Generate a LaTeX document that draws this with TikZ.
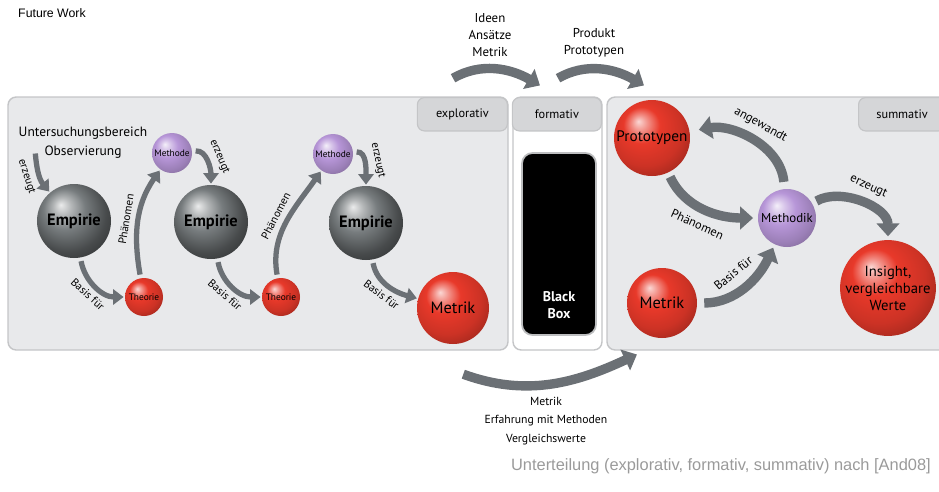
\documentclass[tikz,border=0pt]{standalone}
\usepackage{fontspec}
\setmainfont{PT Sans}
\newfontfamily\arialfont{Liberation Sans}
\usetikzlibrary{arrows.meta,positioning,calc}

\definecolor{panelfill}{HTML}{E8E9EB}
\definecolor{panelline}{HTML}{C4C5C7}
\definecolor{tabfill}{HTML}{D5D6D8}
\definecolor{boxline}{HTML}{BDBEC0}
\definecolor{arrowgray}{HTML}{6B7075}
\definecolor{sphred}{HTML}{E8392A}
\definecolor{sphgray}{HTML}{777C7E}
\definecolor{sphpurple}{HTML}{B796D8}
\definecolor{captiongray}{HTML}{9A9A9A}

% sphere shadings
\pgfdeclareradialshading{redsphere}{\pgfqpoint{-9bp}{11bp}}{%
  color(0bp)=(sphred!20!white); color(5bp)=(sphred!55!white); color(12bp)=(sphred);
  color(24bp)=(sphred!88!black); color(38bp)=(sphred!60!black); color(50bp)=(sphred!50!black)}
\pgfdeclareradialshading{graysphere}{\pgfqpoint{-9bp}{11bp}}{%
  color(0bp)=(sphgray!15!white); color(6bp)=(sphgray!55!white); color(14bp)=(sphgray);
  color(26bp)=(sphgray!60!black); color(38bp)=(sphgray!35!black); color(50bp)=(sphgray!30!black)}
\pgfdeclareradialshading{purplesphere}{\pgfqpoint{-9bp}{11bp}}{%
  color(0bp)=(sphpurple!15!white); color(6bp)=(sphpurple!55!white); color(14bp)=(sphpurple);
  color(26bp)=(sphpurple!85!black); color(38bp)=(sphpurple!65!black); color(50bp)=(sphpurple!55!black)}

\begin{document}
\begin{tikzpicture}[x=0.03cm, y=0.03cm,
    panel/.style={draw=panelline, fill=panelfill, line width=1.2pt, rounded corners=7pt},
    tab/.style={draw=panelline, fill=tabfill, line width=1pt, rounded corners=6pt, minimum height=1cm, font=\fontsize{10.5}{10.5}\selectfont},
    ball/.style={circle, inner sep=0pt, align=center},
    empirie/.style={ball, shading=graysphere, minimum size=2.22cm, font=\bfseries\fontsize{14}{14}\selectfont},
    methode/.style={ball, shading=purplesphere, minimum size=1.2cm, font=\fontsize{8}{8}\selectfont},
    theorie/.style={ball, shading=redsphere, minimum size=1.14cm, font=\fontsize{8}{8}\selectfont},
    bigred/.style={ball, shading=redsphere, minimum size=2.16cm, font=\fontsize{14}{14}\selectfont},
    arr/.style={draw=arrowgray, line width=4.5pt, -{Triangle[length=9pt, width=13pt]}, shorten >=1pt, shorten <=3pt},
    bigarr/.style={arr, line width=8pt, -{Triangle[length=11pt, width=19pt]}},
    lbl/.style={font=\fontsize{9.5}{9.5}\selectfont, inner sep=1pt, sloped},
    biglbl/.style={lbl, font=\fontsize{10.5}{10.5}\selectfont},
    txt/.style={align=center, inner sep=0pt, font=\fontsize{11}{14.5}\selectfont}
]
\useasboundingbox (0,0) rectangle (939,-491);

% Panels
\draw[panel] (8,-97) rectangle (508,-350);
\draw[panel, fill=white] (513,-97) rectangle (602,-350);
\draw[panel] (607,-97) rectangle (960,-350);
\node[tab, anchor=north east, minimum width=2.7cm] (texp) at (508,-97) {explorativ};
\node[tab, anchor=north east, minimum width=2.67cm] (tform) at (602,-97) {formativ};
\node[tab, anchor=north west, minimum width=2.61cm] (tsum) at (858,-97) {summativ};

% Black Box
\node[draw=boxline, fill=black, line width=1.5pt, rounded corners=9pt, minimum width=2.22cm, minimum height=5.46cm] (bbox) at (559,-244) {};
\node[white, align=center, font=\bfseries\fontsize{12}{14}\selectfont, above=0.4cm of bbox.south] (bbtext) {Black\\Box};

% explorativ
\node[txt, font=\fontsize{11.5}{16}\selectfont] (obs) at (83,-143) {Untersuchungsbereich\\Observierung};
\node[empirie] (emp1) at (74,-221) {Empirie};
\node[methode] (meth1) at (172,-153) {Methode};
\node[empirie] (emp2) at (211,-222) {Empirie};
\node[theorie] (theo1) at (144,-297) {Theorie};
\node[theorie] (theo2) at (281,-297) {Theorie};
\node[methode] (meth2) at (333,-154) {Methode};
\node[empirie] (emp3) at (366,-223) {Empirie};
\node[bigred] (metl) at (453,-308) {Metrik};

\coordinate (obsarr) at (35,-150);
\draw[arr] (obsarr) to[out=-85, in=130] node[lbl, below=4pt] {erzeugt} (emp1);
\draw[arr] (emp1) to[out=-80, in=180] node[lbl, below=3pt] {Basis für} (theo1);
\draw[arr] (theo1) to[out=100, in=-125] node[lbl, above=4pt] {Phänomen} (meth1);
\draw[arr] (meth1) to[out=5, in=90] node[lbl, above=4pt] {erzeugt} (emp2);
\draw[arr] (emp2) to[out=-80, in=180] node[lbl, below=3pt] {Basis für} (theo2);
\draw[arr] (theo2) to[out=100, in=-125] node[lbl, above=4pt] {Phänomen} (meth2);
\draw[arr] (meth2) to[out=5, in=90] node[lbl, above=4pt] {erzeugt} (emp3);
\draw[arr] (emp3) to[out=-80, in=165] node[lbl, below=3pt] {Basis für} (metl);

% summativ
\node[bigred, minimum size=2.28cm, font=\fontsize{13}{13}\selectfont] (proto) at (652,-138) {Prototypen};
\node[methode, minimum size=1.74cm, font=\fontsize{11}{11}\selectfont] (methodik) at (787,-218) {Methodik};
\node[bigred, minimum size=2.1cm] (metr) at (662,-303) {Metrik};
\node[bigred, minimum size=2.82cm, font=\fontsize{12.5}{14.5}\selectfont] (insight) at (888,-288) {Insight,\\vergleichbare\\Werte};

\draw[bigarr, shorten <=6pt, shorten >=8pt] (methodik) to[out=95, in=10] node[biglbl, above=6pt] {angewandt} (proto);
\draw[bigarr, shorten <=4pt, shorten >=4pt] (proto) to[out=-65, in=180] node[biglbl, below=6pt] {Phänomen} (methodik);
\draw[bigarr, shorten <=6pt, shorten >=3pt] (metr) to[out=0, in=-115] node[biglbl, above=6pt] {Basis für} (methodik);
\draw[bigarr, shorten <=4pt, shorten >=3pt] (methodik) to[out=30, in=90] node[biglbl, above=6pt] {erzeugt} (insight);

% top and bottom flows
\node[txt] (ideen) at (490,-35) {Ideen\\Ansätze\\Metrik};
\node[txt] (produkt) at (594,-43) {Produkt\\Prototypen};
\coordinate (ideenS) at (450,-80);
\coordinate (ideenE) at (541,-86);
\coordinate (produktS) at (555,-80);
\coordinate (produktE) at (645,-86);
\draw[bigarr] (ideenS) to[out=30, in=150] (ideenE);
\draw[bigarr] (produktS) to[out=30, in=150] (produktE);

\node[txt, font=\fontsize{10}{15.5}\selectfont] (erfahr) at (546,-421) {Metrik\\Erfahrung mit Methoden\\Vergleichswerte};
\coordinate (erfS) at (460,-373);
\coordinate (erfE) at (638,-354);
\draw[bigarr] (erfS) to[out=-20, in=205] (erfE);

% captions
\node[anchor=west, inner sep=0pt, font=\arialfont\fontsize{10.5}{10.5}\selectfont] (fw) at (18,-13) {Future Work};
\node[anchor=east, inner sep=0pt, text=captiongray, font=\arialfont\fontsize{14}{14}\selectfont] (cap) at (931,-466) {Unterteilung (explorativ, formativ, summativ) nach [And08]};
\end{tikzpicture}
\end{document}
